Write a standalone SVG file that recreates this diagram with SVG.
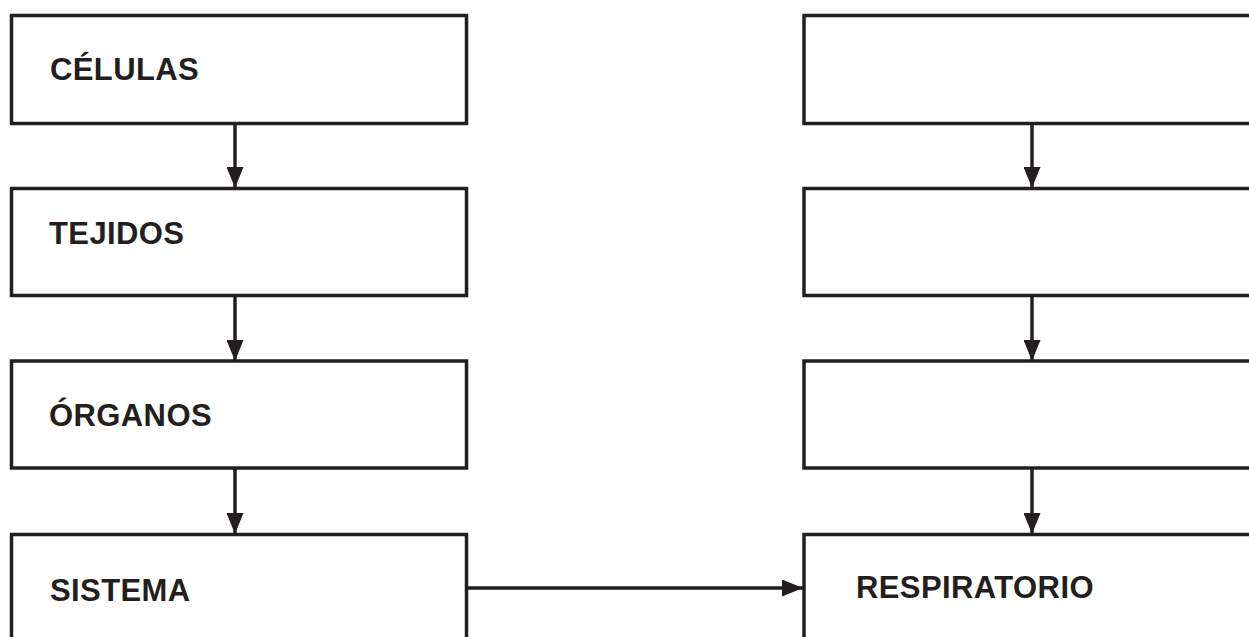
<svg xmlns="http://www.w3.org/2000/svg" width="1249" height="637" viewBox="0 0 1249 637">
<style>
.box{fill:#fff;stroke:#231f20;stroke-width:3.5}
.lbl{font-family:"Liberation Sans",Arial,sans-serif;font-weight:bold;font-size:31px;letter-spacing:0.4px;fill:#231f20}
.con{stroke:#231f20;stroke-width:3.5;fill:none}
</style>
<defs>
<marker id="ah" markerUnits="userSpaceOnUse" markerWidth="21" markerHeight="17" refX="21" refY="8.5" orient="auto">
<path d="M0,0 L21,8.5 L0,17 Z" fill="#231f20"/>
</marker>
</defs>
<rect width="1249" height="637" fill="#fff"/>
<g id="celulas"><rect class="box" x="11.5" y="15.5" width="455" height="108"/><text class="lbl" x="50" y="80">CÉLULAS</text></g>
<g id="tejidos"><rect class="box" x="11.5" y="188.5" width="455" height="107"/><text class="lbl" x="49" y="244">TEJIDOS</text></g>
<g id="organos"><rect class="box" x="11.5" y="361" width="455" height="107"/><text class="lbl" x="49" y="426">ÓRGANOS</text></g>
<g id="sistema"><rect class="box" x="11.5" y="534.5" width="455" height="120"/><text class="lbl" x="50" y="601">SISTEMA</text></g>
<g id="r1"><rect class="box" x="804" y="15.5" width="460" height="108"/></g>
<g id="r2"><rect class="box" x="804" y="188.5" width="460" height="107"/></g>
<g id="r3"><rect class="box" x="804" y="361" width="460" height="107"/></g>
<g id="respiratorio"><rect class="box" x="804" y="534.5" width="460" height="120"/><text class="lbl" x="856" y="598">RESPIRATORIO</text></g>
<g id="connectors">
<line class="con" x1="235" y1="124" x2="235" y2="188" marker-end="url(#ah)"/>
<line class="con" x1="235" y1="296" x2="235" y2="361" marker-end="url(#ah)"/>
<line class="con" x1="235" y1="468" x2="235" y2="534" marker-end="url(#ah)"/>
<line class="con" x1="1032" y1="124" x2="1032" y2="188" marker-end="url(#ah)"/>
<line class="con" x1="1032" y1="296" x2="1032" y2="361" marker-end="url(#ah)"/>
<line class="con" x1="1032" y1="468" x2="1032" y2="534" marker-end="url(#ah)"/>
<line class="con" x1="468" y1="588" x2="803" y2="588" marker-end="url(#ah)"/>
</g>
</svg>
